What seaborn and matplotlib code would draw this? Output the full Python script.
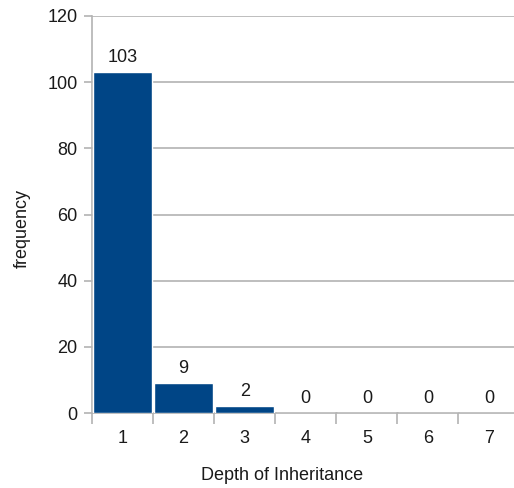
import matplotlib
matplotlib.use("Agg")
import matplotlib.pyplot as plt
import seaborn as sns
import pandas as pd
import numpy as np

depth = ["1", "2", "3", "4", "5", "6", "7"]
frequency = [103, 9, 2, 0, 0, 0, 0]

sns.set_style("white")
plt.rcParams["font.family"] = ["Liberation Sans", "DejaVu Sans"]

df = pd.DataFrame({"depth": depth, "frequency": frequency})

W, H = 514, 488
fig = plt.figure(figsize=(W / 100, H / 100), dpi=100)
left, right, top, bottom = 92, 519.5, 16, 413
ax = fig.add_axes([left / W, (H - bottom) / H, (right - left) / W, (bottom - top) / H])

bar_color = "#004586"
grid_color = "#b3b3b3"
text_color = "#1a1a1a"
fs = 13

sns.barplot(data=df, x="depth", y="frequency", color=bar_color, width=0.97,
            saturation=1, ax=ax, zorder=3)

ax.set_ylim(0, 120)
ax.set_xlim(-0.5, len(depth) - 0.5)
ax.set_yticks(np.arange(0, 121, 20))
ax.yaxis.grid(True, color=grid_color, linewidth=1.2, zorder=0)
ax.set_axisbelow(True)

# category boundaries get the tick marks, labels sit at the centres
ax.set_xticks(np.arange(-0.5, len(depth), 1.0))
ax.set_xticklabels([""] * (len(depth) + 1))
ax.set_xticks(np.arange(len(depth)), minor=True)
ax.set_xticklabels(depth, minor=True)
ax.tick_params(axis="x", which="major", length=8, width=1.2, color=grid_color,
               direction="out", bottom=True)
ax.tick_params(axis="x", which="minor", length=0, pad=12.5, labelsize=fs,
               labelcolor=text_color)
ax.tick_params(axis="y", length=6, width=1.2, color=grid_color, direction="out",
               left=True, pad=4.5, labelsize=fs, labelcolor=text_color)

for side in ["top", "right"]:
    ax.spines[side].set_visible(False)
for side in ["left", "bottom"]:
    ax.spines[side].set_color(grid_color)
    ax.spines[side].set_linewidth(1.2)

for container in ax.containers:
    ax.bar_label(container, labels=[str(v) for v in frequency], padding=4.5,
                 fontsize=fs, color=text_color)

ax.set_xlabel("Depth of Inheritance", fontsize=fs, color=text_color)
ax.set_ylabel("frequency", fontsize=fs, color=text_color)
ax.xaxis.label.set_va("center")
ax.yaxis.label.set_va("center")
ax.xaxis.set_label_coords((282.5 - left) / (right - left), -(476 - bottom) / (bottom - top))
ax.yaxis.set_label_coords(-(left - 22.5) / (right - left), (bottom - 228) / (bottom - top))

fig.savefig("out.png", dpi=100)
